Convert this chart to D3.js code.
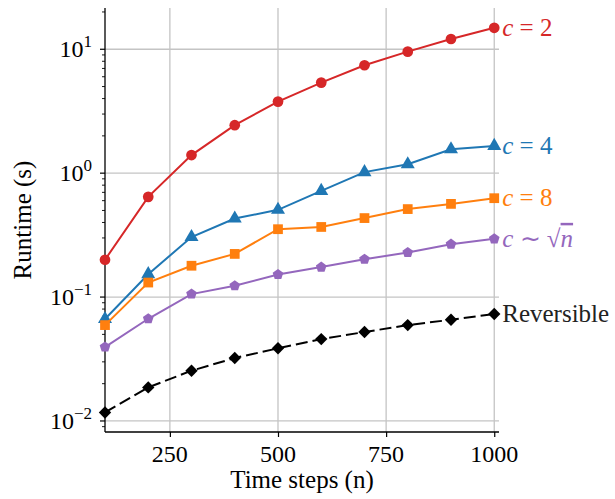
<!DOCTYPE html>
<html>
<head>
<meta charset="utf-8">
<script src="https://cdn.jsdelivr.net/npm/d3@7"></script>
<style>
  body { margin: 0; background: #fff; }
  svg text, svg tspan { font-family: "Liberation Serif" !important; }
</style>
</head>
<body>
<div id="chart"></div>
<script>
// data
var steps = [100, 200, 300, 400, 500, 600, 700, 800, 900, 1000];
var c2 = [0.20, 0.644, 1.40, 2.44, 3.78, 5.38, 7.43, 9.57, 12.1, 14.9];
var c4 = [0.0665, 0.153, 0.305, 0.43, 0.506, 0.72, 1.02, 1.18, 1.56, 1.66];
var c8 = [0.0594, 0.131, 0.179, 0.223, 0.353, 0.368, 0.434, 0.513, 0.565, 0.628];
var cSqrt = [0.0395, 0.0668, 0.1057, 0.1233, 0.152, 0.1745, 0.202, 0.229, 0.267, 0.295];
var reversible = [0.01172, 0.01866, 0.02546, 0.0322, 0.0386, 0.0458, 0.0522, 0.0594, 0.0656, 0.073];
var xTicks = [250, 500, 750, 1000];
var yTicks = [-2, -1, 0, 1];

var width = 615, height = 499;
var margin = { top: 8, right: 116, bottom: 67, left: 105 };

var svg = d3.select("#chart").append("svg")
  .attr("width", width)
  .attr("height", height);

var x = d3.scaleLinear().domain([100, 1011]).range([margin.left, width - margin.right]);
var y = d3.scaleLog().domain([Math.pow(10, -2.089), Math.pow(10, 1.333)])
  .range([height - margin.bottom, margin.top]);

// pentagon marker
function pentagon(r) {
  var pts = d3.range(5).map(function (i) {
    var a = -Math.PI / 2 + i * 2 * Math.PI / 5;
    return [r * Math.cos(a), r * Math.sin(a)];
  });
  return "M" + pts.join("L") + "Z";
}
// matplotlib style diamond (rotated square)
function diamond(r) {
  return "M0," + (-r) + "L" + r + ",0L0," + r + "L" + (-r) + ",0Z";
}

var series = [
  { name: "c2", values: c2, color: "#d62728", marker: d3.symbol(d3.symbolCircle, 90)(), dash: null },
  { name: "c4", values: c4, color: "#1f77b4", marker: d3.symbol(d3.symbolTriangle, 85)(), dash: null },
  { name: "c8", values: c8, color: "#ff7f0e", marker: d3.symbol(d3.symbolSquare, 95)(), dash: null },
  { name: "sqrt", values: cSqrt, color: "#9467bd", marker: pentagon(5.6), dash: null },
  { name: "rev", values: reversible, color: "#000000", marker: diamond(6.2), dash: "12,5" }
];

function addText(sel, size) {
  return sel.append("text")
    .attr("font-size", size)
    .style("font-family", "'Liberation Serif'", "important");
}

// grid
var grid = svg.append("g");
grid.selectAll(".vg").data(xTicks).enter().append("line")
  .attr("x1", function (d) { return x(d); })
  .attr("x2", function (d) { return x(d); })
  .attr("y1", margin.top)
  .attr("y2", height - margin.bottom)
  .attr("stroke", "#c4c4c4")
  .attr("stroke-width", 1.3);
grid.selectAll(".hg").data(yTicks).enter().append("line")
  .attr("x1", margin.left)
  .attr("x2", width - margin.right)
  .attr("y1", function (d) { return y(Math.pow(10, d)); })
  .attr("y2", function (d) { return y(Math.pow(10, d)); })
  .attr("stroke", "#c4c4c4")
  .attr("stroke-width", 1.3);

// x axis: ticks from d3 axis, labels drawn as plain text
var xAxis = svg.append("g")
  .attr("transform", "translate(0," + (height - margin.bottom) + ")")
  .call(d3.axisBottom(x).tickValues(xTicks).tickSize(5).tickFormat(""));
xAxis.select(".domain").attr("d", "M" + margin.left + ",0H" + (width - margin.right)).attr("stroke-width", 1.3);
xAxis.selectAll(".tick line").attr("stroke-width", 1.2);
xAxis.selectAll(".tick text").remove();
xTicks.forEach(function (t) {
  addText(svg, 24)
    .attr("x", x(t))
    .attr("y", height - margin.bottom + 30)
    .attr("text-anchor", "middle")
    .attr("fill", "#000")
    .text(t);
});

// y axis with minor log ticks
var minor = [];
for (var e = -3; e <= 1; e++) {
  for (var m = 2; m <= 9; m++) {
    var v = m * Math.pow(10, e);
    if (v >= y.domain()[0] && v <= y.domain()[1]) minor.push(v);
  }
}
var yAxis = svg.append("g").attr("transform", "translate(" + margin.left + ",0)");
yAxis.append("line")
  .attr("x1", 0).attr("x2", 0)
  .attr("y1", margin.top).attr("y2", height - margin.bottom)
  .attr("stroke", "#000").attr("stroke-width", 1.3);
yAxis.selectAll(".minor").data(minor).enter().append("line")
  .attr("x1", -3).attr("x2", 0)
  .attr("y1", function (d) { return y(d); })
  .attr("y2", function (d) { return y(d); })
  .attr("stroke", "#000").attr("stroke-width", 0.9);
yAxis.selectAll(".major").data(yTicks).enter().append("line")
  .attr("x1", -5).attr("x2", 0)
  .attr("y1", function (d) { return y(Math.pow(10, d)); })
  .attr("y2", function (d) { return y(Math.pow(10, d)); })
  .attr("stroke", "#000").attr("stroke-width", 1.2);
yTicks.forEach(function (d) {
  var t = addText(svg, 24)
    .attr("x", margin.left - 13)
    .attr("y", y(Math.pow(10, d)) + 8)
    .attr("text-anchor", "end")
    .attr("fill", "#000");
  t.append("tspan").text("10");
  t.append("tspan").attr("dy", -10).attr("font-size", 17)
    .text(d < 0 ? "\u2212" + (-d) : d);
});

// lines and markers
var line = d3.line()
  .x(function (d, i) { return x(steps[i]); })
  .y(function (d) { return y(d); });

series.forEach(function (s) {
  svg.append("path")
    .datum(s.values)
    .attr("d", line)
    .attr("fill", "none")
    .attr("stroke", s.color)
    .attr("stroke-width", 2)
    .attr("stroke-dasharray", s.dash);
  svg.selectAll(".m-" + s.name).data(s.values).enter().append("path")
    .attr("d", s.marker)
    .attr("transform", function (d, i) { return "translate(" + x(steps[i]) + "," + y(d) + ")"; })
    .attr("fill", s.color);
});

// end labels
function endLabel(s) {
  return addText(svg, 25)
    .attr("x", x(steps[steps.length - 1]) + 8)
    .attr("y", y(s.values[s.values.length - 1]) + 8)
    .attr("fill", s.color);
}
[["c2", "2"], ["c4", "4"], ["c8", "8"]].forEach(function (p) {
  var s = series.find(function (d) { return d.name === p[0]; });
  var t = endLabel(s);
  t.append("tspan").attr("font-style", "italic").text("c");
  t.append("tspan").text(" = " + p[1]);
});
var sq = endLabel(series[3]);
sq.append("tspan").attr("font-style", "italic").text("c");
sq.append("tspan").text(" \u223C \u221A");
sq.append("tspan").attr("font-style", "italic").attr("text-decoration", "overline").text("n");
endLabel(series[4]).attr("fill", "#222").text("Reversible");

// axis titles
addText(svg, 25)
  .attr("x", (margin.left + width - margin.right) / 2)
  .attr("y", 488)
  .attr("text-anchor", "middle")
  .attr("fill", "#000")
  .text("Time steps (n)");
addText(svg, 25)
  .attr("transform", "translate(31," + ((margin.top + height - margin.bottom) / 2) + ") rotate(-90)")
  .attr("text-anchor", "middle")
  .attr("fill", "#000")
  .text("Runtime (s)");
</script>
</body>
</html>
